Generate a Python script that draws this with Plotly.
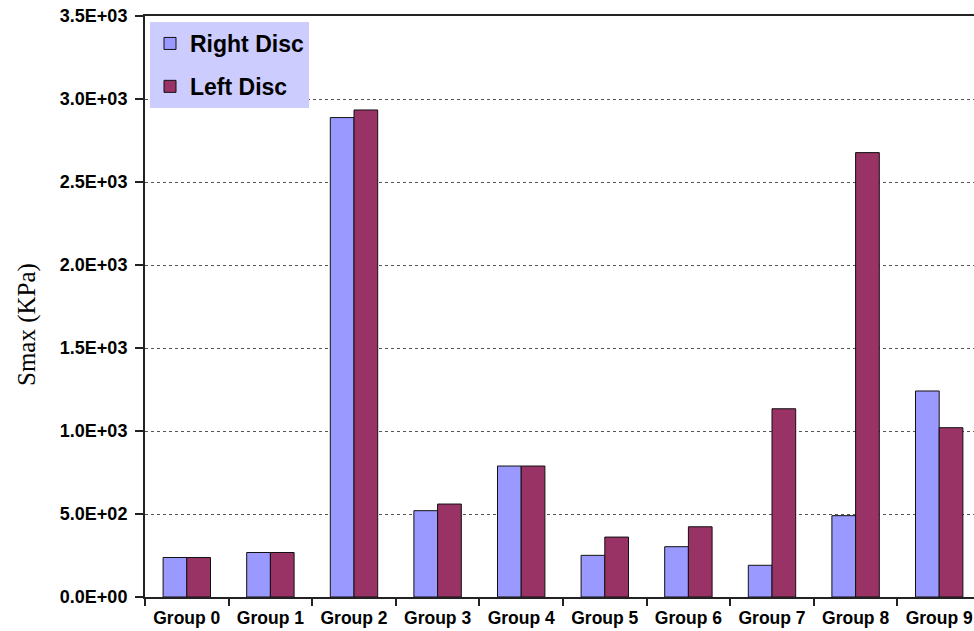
import plotly.graph_objects as go

categories = ["Group 0", "Group 1", "Group 2", "Group 3", "Group 4",
              "Group 5", "Group 6", "Group 7", "Group 8", "Group 9"]
right_disc = [238, 268, 2888, 520, 789, 251, 303, 191, 490, 1241]
left_disc = [238, 268, 2934, 560, 789, 361, 423, 1134, 2677, 1020]
ytick_vals = [0, 500, 1000, 1500, 2000, 2500, 3000, 3500]
ytick_text = ["0.0E+00", "5.0E+02", "1.0E+03", "1.5E+03", "2.0E+03",
              "2.5E+03", "3.0E+03", "3.5E+03"]

fig = go.Figure()
fig.add_trace(go.Bar(x=categories, y=right_disc, name="Right Disc",
                     legendgroup="r",
                     marker=dict(color="#9999FF", line=dict(color="#111111", width=1))))
fig.add_trace(go.Bar(x=categories, y=left_disc, name="Left Disc",
                     legendgroup="l",
                     marker=dict(color="#993366", line=dict(color="#111111", width=1))))

W, H = 974, 631
ml, mr, mt, mb = 145, 0, 16, 34
plot_w = W - ml - mr
cat_w = 83.6
ncat_visible = plot_w / cat_w

fig.update_layout(
    width=W, height=H,
    margin=dict(l=ml, r=mr, t=mt, b=mb, pad=0),
    paper_bgcolor="white", plot_bgcolor="white",
    barmode="group", bargap=0.433, bargroupgap=0,
    font=dict(family="Liberation Sans, Arial", color="black"),
    showlegend=True,
    legend=dict(x=5 / plot_w, y=1 - 6 / 581, xanchor="left", yanchor="top",
                bgcolor="#CCCCFF", borderwidth=0,
                font=dict(size=23, family="Liberation Sans, Arial", weight="bold"),
                tracegroupgap=10, traceorder="grouped"),
    xaxis=dict(range=[-0.5, -0.5 + ncat_visible], type="category",
               showline=True, linecolor="#222222", linewidth=2, mirror=True,
               ticks="outside", ticklen=7, tickcolor="#222222", tickwidth=2,
               tickson="boundaries", showgrid=False, ticklabelstandoff=4,
               tickfont=dict(size=17.5, family="Liberation Sans, Arial", weight="bold")),
    yaxis=dict(range=[0, 3500], tickvals=ytick_vals, ticktext=ytick_text,
               showline=True, linecolor="#222222", linewidth=2,
               ticks="outside", ticklen=8, tickcolor="#222222", tickwidth=2,
               showgrid=True, gridcolor="#555555", gridwidth=1, griddash="3px,3px",
               zeroline=False, ticklabelstandoff=4,
               tickfont=dict(size=18, family="Liberation Sans, Arial", weight="bold")),
)

fig.add_annotation(text="Smax (KPa)", textangle=-90, xref="paper", yref="paper",
                   x=-(ml - 27) / plot_w, y=1 - (325 - mt) / 581,
                   xanchor="center", yanchor="middle", showarrow=False,
                   font=dict(size=25, family="Liberation Serif, Times New Roman", color="black"))

fig.write_html("out.html")
